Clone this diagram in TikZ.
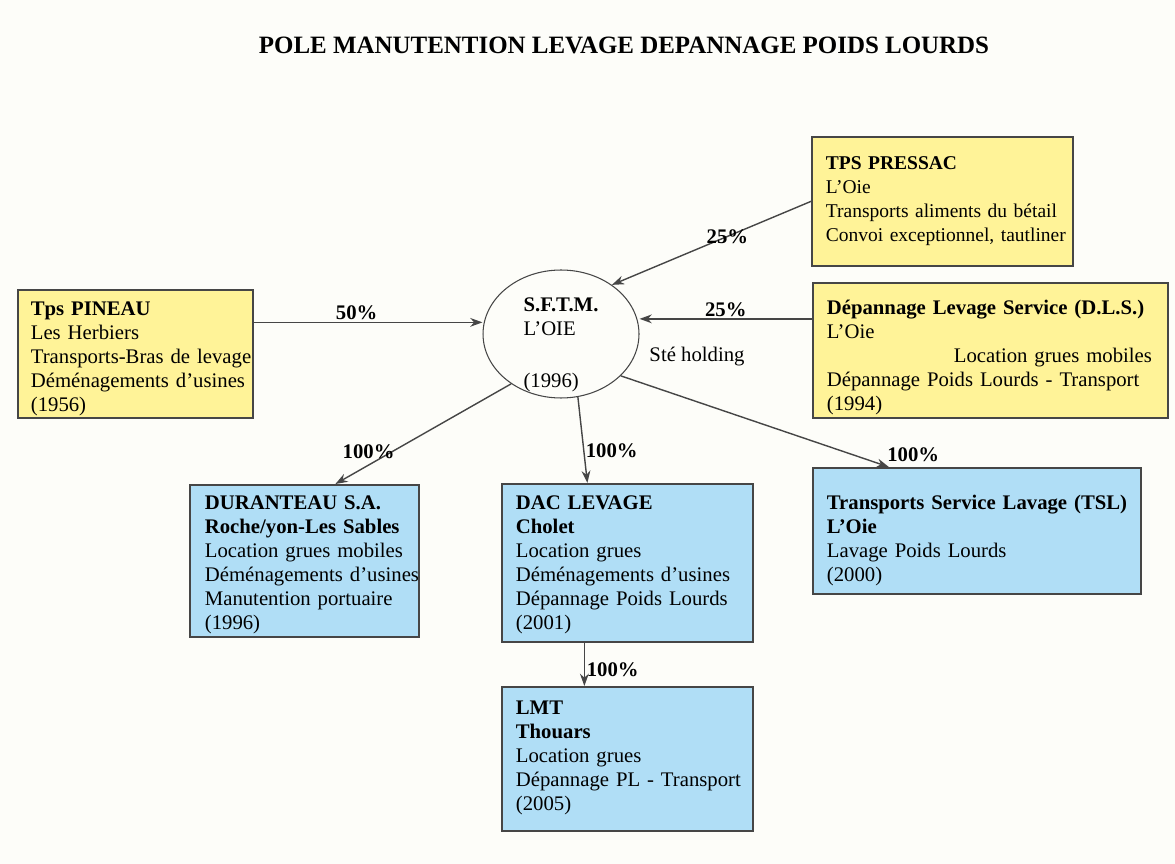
\documentclass[tikz,border=0pt]{standalone}
\usepackage{fontspec}
\setmainfont{Liberation Serif}
\usetikzlibrary{shapes.geometric,arrows.meta}
\definecolor{boxyellow}{RGB}{255,243,152}
\definecolor{boxblue}{RGB}{176,222,246}
\definecolor{framegray}{RGB}{70,70,70}
\definecolor{paper}{RGB}{253,253,249}
\tikzset{
  texte/.style={font=\fontsize{11.8}{13.6}\selectfont},
  societe/.style={texte, draw=framegray, line width=1pt, anchor=north west, align=left,
    inner xsep=0.28cm, inner ysep=0pt},
  mere/.style={societe, fill=boxyellow},
  fille/.style={societe, fill=boxblue},
  part/.style={font=\fontsize{11.8}{13.6}\selectfont\bfseries, inner sep=1pt},
}

\begin{document}
\begin{tikzpicture}[x=0.02cm, y=-0.02cm, >={Stealth[length=7pt,width=5pt]}, line width=0.8pt, draw=framegray]
\fill[paper] (0,0) rectangle (1175,864);
\useasboundingbox (0,0) rectangle (1175,864);

\node[font=\fontsize{14.2}{16}\selectfont\bfseries] (titre) at (624,45) {POLE MANUTENTION LEVAGE DEPANNAGE POIDS LOURDS};

% actionnaires
\node[mere, font=\fontsize{11.1}{13.6}\selectfont, text width=4.66cm, text height=0.66cm, text depth=1.92cm] (pressac) at (811,136)
  {\textbf{TPS PRESSAC}\\ L'Oie\\ \mbox{Transports aliments du bétail}\\ \mbox{Convoi exceptionnel, tautliner}};
\node[mere, inner xsep=0.26cm, text width=4.18cm, text height=0.52cm, text depth=2.04cm] (pineau) at (17,289)
  {\textbf{Tps PINEAU}\\ Les Herbiers\\ \mbox{Transports-Bras de levage}\\ \mbox{Déménagements d'usines}\\ (1956)};
\node[mere, text width=6.54cm, text height=0.64cm, text depth=2.06cm] (dls) at (812,282)
  {\textbf{Dépannage Levage Service (D.L.S.)}\\ L'Oie\\ \hspace*{2.54cm}Location grues mobiles\\ \mbox{Dépannage Poids Lourds - Transport}\\ (1994)};

% holding
\node[ellipse, draw=framegray, line width=0.6pt, minimum width=3.12cm, minimum height=2.56cm] (sftm) at (561,334) {};
\node[texte, align=left, inner sep=0pt] (sftmtexte) at ([yshift=-0.22cm]sftm.center)
  {\textbf{S.F.T.M.}\\ L'OIE\\[16pt] (1996)};
\node[texte] (holding) at (697,357) {Sté holding};

% filiales
\node[fille, inner xsep=0.3cm, text width=3.98cm, text height=0.5cm, text depth=2.54cm] (duranteau) at (189,484)
  {\mbox{\textbf{DURANTEAU S.A.}}\\ \mbox{\textbf{Roche/yon-Les Sables}}\\ \mbox{Location grues mobiles}\\ \mbox{Déménagements d'usines}\\ \mbox{Manutention portuaire}\\ (1996)};
\node[fille, text width=4.46cm, text height=0.52cm, text depth=2.64cm] (dac) at (501,483)
  {\textbf{DAC LEVAGE}\\ \textbf{Cholet}\\ Location grues\\ \mbox{Déménagements d'usines}\\ \mbox{Dépannage Poids Lourds}\\ (2001)};
\node[fille, text width=6.00cm, text height=0.84cm, text depth=1.68cm] (tsl) at (812,467)
  {\mbox{\textbf{Transports Service Lavage (TSL)}}\\ \textbf{L'Oie}\\ Lavage Poids Lourds\\ (2000)};
\node[fille, text width=4.46cm, text height=0.56cm, text depth=2.32cm] (lmt) at (501,686)
  {\textbf{LMT}\\ \textbf{Thouars}\\ Location grues\\ \mbox{Dépannage PL - Transport}\\ (2005)};

\draw[->] ([yshift=0.63cm]pineau.east) -- ([yshift=0.63cm]pineau.east -| sftm.west)
  node[part, pos=.45, above]{50\%};
\draw[->] ([yshift=0.63cm]dls.west) -- ([yshift=0.63cm]dls.west -| sftm.east)
  node[part, pos=.5, above]{25\%};
\draw[->] (pressac.west) -- (sftm.44) node[part, pos=.42]{25\%};
\draw[->] (sftm.225) -- ([xshift=0.62cm]duranteau.north) node[part, pos=.68, xshift=-0.46cm]{100\%};
\draw[->] (sftm.285) -- ([xshift=-0.8cm]dac.north) node[part, pos=.62, xshift=0.56cm]{100\%};
\draw[->] (sftm.325) -- ([xshift=-1.76cm]tsl.north) node[part, pos=.97, anchor=south west, xshift=0.08cm]{100\%};
\draw[->] ([xshift=-0.86cm]dac.south) -- ([xshift=-0.86cm]lmt.north) node[part, pos=.62, anchor=west]{100\%};

\end{tikzpicture}
\end{document}
